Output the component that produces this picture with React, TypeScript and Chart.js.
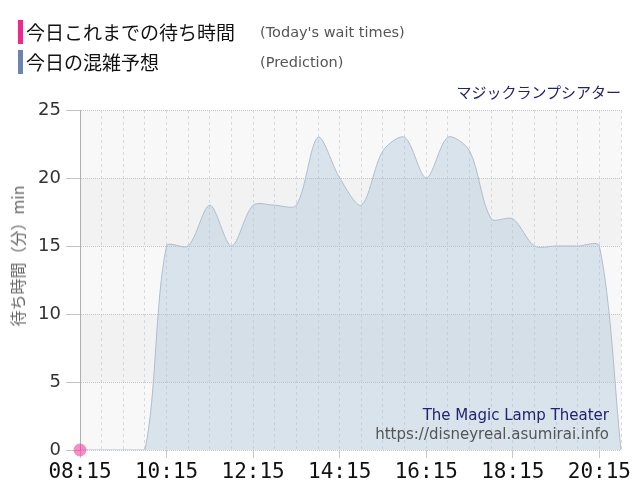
import { useEffect, useRef } from 'react';
import { Chart, registerables } from 'chart.js';
import type { Chart as ChartType } from 'chart.js';

Chart.register(...registerables);

// 30分ごとの時刻
const timeLabels = [
  '08:15', '08:45', '09:15', '09:45', '10:15', '10:45', '11:15', '11:45',
  '12:15', '12:45', '13:15', '13:45', '14:15', '14:45', '15:15', '15:45',
  '16:15', '16:45', '17:15', '17:45', '18:15', '18:45', '19:15', '19:45',
  '20:15', '20:45',
];

// 今日の混雑予想 (分)
const predictionValues = [
  0, 0, 0, 0, 15, 15, 18, 15,
  18, 18, 18, 23, 20, 18, 22, 23,
  20, 23, 22, 17, 17, 15, 15, 15,
  15, 0,
];

// 今日これまでの待ち時間 (分)
const todayValues: (number | null)[] = [0];

const yTicks = [0, 5, 10, 15, 20, 25];

const bandPlugin = {
  id: 'bands',
  beforeDraw(chart: any) {
    const { ctx, chartArea, scales } = chart;
    const y = scales.y;
    ctx.save();
    for (let i = 0; i < yTicks.length - 1; i++) {
      const top = y.getPixelForValue(yTicks[i + 1]);
      const bottom = y.getPixelForValue(yTicks[i]);
      ctx.fillStyle = i % 2 === 0 ? '#f8f8f8' : '#f2f2f2';
      ctx.fillRect(chartArea.left, top, chartArea.right - chartArea.left, bottom - top);
    }
    ctx.restore();
  },
};

const App = () => {
  const canvasRef = useRef<HTMLCanvasElement | null>(null);
  const chartInstance = useRef<ChartType | null>(null);

  useEffect(() => {
    const canvas = canvasRef.current;
    if (!canvas) return;
    const ctx = canvas.getContext('2d');
    if (!ctx) return;

    chartInstance.current = new Chart(ctx, {
      type: 'line',
      data: {
        labels: timeLabels,
        datasets: [
          {
            label: '今日これまでの待ち時間',
            data: todayValues,
            showLine: false,
            pointRadius: 6.5,
            pointBorderWidth: 0,
            pointBackgroundColor: 'rgba(240, 50, 150, 0.55)',
            clip: false,
            order: 0,
          },
          {
            label: '今日の混雑予想',
            data: predictionValues,
            borderColor: 'rgb(175, 190, 205)',
            borderWidth: 1,
            backgroundColor: 'rgba(170, 195, 218, 0.4)',
            fill: 'origin',
            tension: 0.3,
            pointRadius: 0,
            order: 1,
          },
        ],
      },
      options: {
        animation: false,
        responsive: false,
        maintainAspectRatio: false,
        layout: { padding: { top: 110, right: 19, left: 0, bottom: 0 } },
        plugins: {
          legend: { display: false },
          tooltip: { enabled: false },
        },
        scales: {
          x: {
            type: 'category',
            afterFit: (scale: any) => {
              scale.height = 50;
            },
            grid: {
              color: 'rgba(200, 208, 218, 0.75)',
              tickColor: (c: any) => (c.index % 4 === 0 ? '#c8c8c8' : 'transparent'),
              tickLength: 8,
              tickBorderDash: [],
            },
            border: { display: false, dash: [3, 3] },
            ticks: {
              autoSkip: false,
              maxRotation: 0,
              padding: 2,
              color: '#111',
              font: { family: 'DejaVu Sans Mono', size: 21 },
              callback: (_v: any, i: number) => (i % 4 === 0 ? timeLabels[i] : ''),
            },
          },
          y: {
            min: 0,
            max: 25,
            afterFit: (scale: any) => {
              scale.width = 80;
            },
            grid: {
              color: '#c4c4c4',
              tickColor: '#c4c4c4',
              tickLength: 14,
              tickBorderDash: [],
            },
            border: { display: true, color: '#b0b0b0', width: 1, dash: [1, 1] },
            ticks: {
              stepSize: 5,
              padding: 5,
              color: '#333',
              font: { family: 'DejaVu Sans', size: 18 },
            },
          },
        },
      },
      plugins: [bandPlugin],
    });

    return () => {
      chartInstance.current?.destroy();
      chartInstance.current = null;
    };
  }, []);

  const sans = '"DejaVu Sans", sans-serif';
  const jp = '"Noto Sans CJK JP", sans-serif';

  return (
    <div style={{ position: 'fixed', left: 0, top: 0, width: 640, height: 500, background: '#fff' }}>
      <canvas ref={canvasRef} width={640} height={500} style={{ position: 'absolute', left: 0, top: 0 }} />

      {/* 凡例 */}
      <div style={{ position: 'absolute', left: 18, top: 20, width: 5, height: 24, background: '#f0288c' }} />
      <div style={{ position: 'absolute', left: 26, top: 22, fontFamily: jp, fontSize: 19, lineHeight: '20px', color: '#111', whiteSpace: 'nowrap' }}>
        今日これまでの待ち時間
      </div>
      <div style={{ position: 'absolute', left: 260, top: 24, fontFamily: sans, fontSize: 14.5, lineHeight: '16px', color: '#555', whiteSpace: 'nowrap' }}>
        (Today's wait times)
      </div>
      <div style={{ position: 'absolute', left: 18, top: 50, width: 5, height: 24, background: '#6a86b0' }} />
      <div style={{ position: 'absolute', left: 26, top: 52, fontFamily: jp, fontSize: 19, lineHeight: '20px', color: '#111', whiteSpace: 'nowrap' }}>
        今日の混雑予想
      </div>
      <div style={{ position: 'absolute', left: 260, top: 54, fontFamily: sans, fontSize: 14.5, lineHeight: '16px', color: '#555', whiteSpace: 'nowrap' }}>
        (Prediction)
      </div>

      <div style={{ position: 'absolute', right: 19, top: 83, fontFamily: jp, fontSize: 15, lineHeight: '18px', color: '#22226e', whiteSpace: 'nowrap' }}>
        マジックランプシアター
      </div>

      {/* 縦軸タイトル */}
      <div
        style={{
          position: 'absolute',
          left: 17,
          top: 256,
          transform: 'translate(-50%, -50%) rotate(-90deg)',
          fontFamily: jp,
          fontSize: 16,
          lineHeight: '18px',
          color: '#666',
          whiteSpace: 'nowrap',
        }}
      >
        待ち時間（分）min
      </div>

      <div style={{ position: 'absolute', right: 31, top: 408, fontFamily: sans, fontSize: 15, lineHeight: '15px', color: '#22226e', whiteSpace: 'nowrap' }}>
        The Magic Lamp Theater
      </div>
      <div style={{ position: 'absolute', right: 31, top: 427, fontFamily: sans, fontSize: 15, lineHeight: '15px', color: '#555', whiteSpace: 'nowrap' }}>
        https://disneyreal.asumirai.info
      </div>
    </div>
  );
};

export default App;
